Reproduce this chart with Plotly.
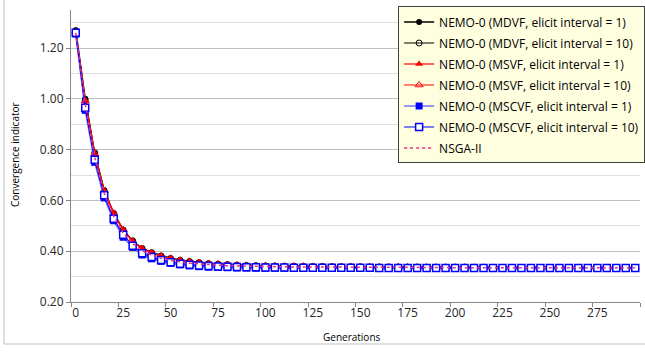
import plotly.graph_objects as go

# Generations (one point every 5 generations)
generations = [0, 5, 10, 15, 20, 25, 30, 35, 40, 45,
               50, 55, 60, 65, 70, 75, 80, 85, 90, 95,
               100, 105, 110, 115, 120, 125, 130, 135, 140, 145,
               150, 155, 160, 165, 170, 175, 180, 185, 190, 195,
               200, 205, 210, 215, 220, 225, 230, 235, 240, 245,
               250, 255, 260, 265, 270, 275, 280, 285, 290, 295]

mdvf_1 = [1.270, 1.000, 0.785, 0.640, 0.550, 0.485, 0.440, 0.412, 0.395, 0.382,
          0.372, 0.365, 0.360, 0.356, 0.352, 0.350, 0.348, 0.346, 0.345, 0.344,
          0.343, 0.342, 0.342, 0.341, 0.341, 0.340, 0.340, 0.340, 0.339, 0.339,
          0.339, 0.339, 0.338, 0.338, 0.338, 0.338, 0.338, 0.338, 0.337, 0.337,
          0.337, 0.337, 0.337, 0.337, 0.337, 0.337, 0.336, 0.336, 0.336, 0.336,
          0.336, 0.336, 0.336, 0.336, 0.336, 0.336, 0.336, 0.336, 0.336, 0.336]

mdvf_10 = [1.268, 0.995, 0.788, 0.638, 0.548, 0.483, 0.441, 0.410, 0.394, 0.381,
           0.371, 0.364, 0.359, 0.355, 0.351, 0.349, 0.347, 0.345, 0.344, 0.343,
           0.342, 0.342, 0.341, 0.341, 0.340, 0.340, 0.340, 0.339, 0.339, 0.339,
           0.338, 0.338, 0.338, 0.338, 0.338, 0.337, 0.337, 0.337, 0.337, 0.337,
           0.337, 0.337, 0.336, 0.336, 0.336, 0.336, 0.336, 0.336, 0.336, 0.336,
           0.336, 0.336, 0.336, 0.335, 0.335, 0.335, 0.335, 0.335, 0.335, 0.335]

msvf_1 = [1.262, 0.990, 0.780, 0.636, 0.548, 0.482, 0.438, 0.410, 0.393, 0.380,
          0.371, 0.364, 0.359, 0.355, 0.351, 0.349, 0.347, 0.345, 0.344, 0.343,
          0.342, 0.342, 0.341, 0.341, 0.340, 0.340, 0.340, 0.339, 0.339, 0.339,
          0.339, 0.338, 0.338, 0.338, 0.338, 0.338, 0.337, 0.337, 0.337, 0.337,
          0.337, 0.337, 0.337, 0.336, 0.336, 0.336, 0.336, 0.336, 0.336, 0.336,
          0.336, 0.336, 0.336, 0.336, 0.336, 0.336, 0.336, 0.336, 0.336, 0.336]

msvf_10 = [1.265, 0.992, 0.783, 0.638, 0.550, 0.484, 0.439, 0.411, 0.394, 0.381,
           0.372, 0.365, 0.360, 0.355, 0.352, 0.349, 0.347, 0.346, 0.344, 0.343,
           0.343, 0.342, 0.341, 0.341, 0.341, 0.340, 0.340, 0.339, 0.339, 0.339,
           0.339, 0.338, 0.338, 0.338, 0.338, 0.338, 0.338, 0.337, 0.337, 0.337,
           0.337, 0.337, 0.337, 0.337, 0.336, 0.336, 0.336, 0.336, 0.336, 0.336,
           0.336, 0.336, 0.336, 0.336, 0.336, 0.336, 0.336, 0.336, 0.336, 0.336]

mscvf_1 = [1.255, 0.955, 0.750, 0.610, 0.520, 0.455, 0.415, 0.385, 0.370, 0.360,
           0.352, 0.346, 0.342, 0.339, 0.337, 0.336, 0.335, 0.334, 0.334, 0.333,
           0.333, 0.333, 0.333, 0.333, 0.333, 0.333, 0.333, 0.332, 0.332, 0.332,
           0.332, 0.332, 0.332, 0.332, 0.332, 0.332, 0.332, 0.332, 0.332, 0.332,
           0.332, 0.332, 0.332, 0.332, 0.332, 0.332, 0.332, 0.332, 0.332, 0.332,
           0.332, 0.332, 0.332, 0.332, 0.332, 0.332, 0.332, 0.332, 0.332, 0.332]

mscvf_10 = [1.260, 0.965, 0.760, 0.620, 0.528, 0.465, 0.422, 0.392, 0.377, 0.365,
            0.357, 0.351, 0.347, 0.344, 0.342, 0.340, 0.339, 0.338, 0.337, 0.337,
            0.336, 0.336, 0.336, 0.335, 0.335, 0.335, 0.335, 0.335, 0.335, 0.335,
            0.335, 0.335, 0.334, 0.334, 0.334, 0.334, 0.334, 0.334, 0.334, 0.334,
            0.334, 0.334, 0.334, 0.334, 0.334, 0.334, 0.334, 0.334, 0.334, 0.334,
            0.334, 0.334, 0.334, 0.334, 0.334, 0.334, 0.334, 0.334, 0.334, 0.334]

nsga2 = [1.260, 0.980, 0.770, 0.628, 0.538, 0.472, 0.430, 0.402, 0.385, 0.372,
         0.364, 0.358, 0.353, 0.350, 0.347, 0.345, 0.343, 0.342, 0.341, 0.340,
         0.340, 0.339, 0.339, 0.338, 0.338, 0.338, 0.338, 0.337, 0.337, 0.337,
         0.337, 0.337, 0.336, 0.336, 0.336, 0.336, 0.336, 0.336, 0.336, 0.336,
         0.335, 0.335, 0.335, 0.335, 0.335, 0.335, 0.335, 0.335, 0.335, 0.335,
         0.335, 0.335, 0.335, 0.335, 0.335, 0.335, 0.335, 0.335, 0.335, 0.335]

series_names = [
    "NEMO-0 (MDVF, elicit interval = 1)",
    "NEMO-0 (MDVF, elicit interval = 10)",
    "NEMO-0 (MSVF, elicit interval = 1)",
    "NEMO-0 (MSVF, elicit interval = 10)",
    "NEMO-0 (MSCVF, elicit interval = 1)",
    "NEMO-0 (MSCVF, elicit interval = 10)",
    "NSGA-II",
]

y_ticks = [0.2, 0.4, 0.6, 0.8, 1.0, 1.2]
x_ticks = [0, 25, 50, 75, 100, 125, 150, 175, 200, 225, 250, 275]

FONT = "Open Sans"
fig = go.Figure()

styles = [
    (mdvf_1, dict(color="black", width=1.5), dict(symbol="circle", size=6, color="black")),
    (mdvf_10, dict(color="black", width=1), dict(symbol="circle-open", size=6, color="black", line=dict(width=1))),
    (msvf_1, dict(color="#FF3030", width=1.5), dict(symbol="triangle-up", size=7, color="#FF0000")),
    (msvf_10, dict(color="#FF0000", width=1), dict(symbol="triangle-up-open", size=7, color="#FF0000", line=dict(width=1))),
    (mscvf_1, dict(color="#7070FF", width=1.5), dict(symbol="square", size=7, color="#0000FF")),
    (mscvf_10, dict(color="#0000FF", width=1.2), dict(symbol="square", size=7, color="white", line=dict(color="#0000FF", width=1.5))),
]
for i, (s, name) in enumerate(zip(styles, series_names[:6])):
    vals, ln, mk = s
    fig.add_trace(go.Scatter(x=generations, y=vals, mode="lines+markers", name=name,
                             line=ln, marker=mk, legendgroup=f"g{i}"))
fig.add_trace(go.Scatter(x=generations, y=nsga2, mode="lines", name=series_names[6],
                         line=dict(color="#E8308A", width=1.5, dash="dot"), legendgroup="g6"))

cat_edges = [g - 2.5 for g in generations[::5]] + [generations[-1] + 2.5]

fig.update_layout(
    width=645, height=352,
    margin=dict(l=71, r=5, t=10, b=50, autoexpand=False),
    paper_bgcolor="white", plot_bgcolor="white",
    font=dict(family=FONT, size=12, color="#262626"),
    xaxis=dict(range=[-2.5, 297.5], tickmode="array", tickvals=x_ticks,
               ticktext=[str(v) for v in x_ticks], ticks="", showgrid=False,
               showline=True, linecolor="#868686", linewidth=1, zeroline=False,
               tickfont=dict(size=12), automargin=False,
               minor=dict(tickmode="array", tickvals=cat_edges, ticks="outside",
                          ticklen=4, tickcolor="#868686", showgrid=False)),
    yaxis=dict(range=[0.2, 1.35], tickmode="array", tickvals=y_ticks, tickformat=".2f",
               ticks="outside", ticklen=4, tickcolor="#868686",
               showgrid=True, gridcolor="#BFBFBF", gridwidth=1,
               showline=True, linecolor="#868686", linewidth=1, zeroline=False,
               tickfont=dict(size=12), automargin=False,
               minor=dict(tick0=0.2, dtick=0.1, showgrid=True, gridcolor="#DEDEDE", gridwidth=1)),
    legend=dict(x=1.009, xanchor="right", y=1.012, yanchor="top",
                bgcolor="#FFFFE0", bordercolor="#404040", borderwidth=1,
                font=dict(family=FONT, size=12, color="black"),
                itemwidth=30, traceorder="grouped", tracegroupgap=2),
    showlegend=True,
    annotations=[
        dict(text="Convergence indicator", xref="paper", yref="paper",
             x=(15 - 71) / 569, y=(302 - 155) / 292, textangle=-90, showarrow=False,
             font=dict(size=10, family=FONT, color="black"), xanchor="center", yanchor="middle"),
        dict(text="Generations", xref="paper", yref="paper",
             x=(352 - 71) / 569, y=(302 - 337) / 292, showarrow=False,
             font=dict(size=10, family=FONT, color="black"), xanchor="center", yanchor="middle"),
    ],
    shapes=[
        dict(type="line", xref="paper", yref="paper", x0=(4 - 71) / 569, x1=(4 - 71) / 569,
             y0=(302 + 5) / 292, y1=(302 - 344) / 292, line=dict(color="#BFBFBF", width=1)),
        dict(type="line", xref="paper", yref="paper", x0=(4 - 71) / 569, x1=(650 - 71) / 569,
             y0=(302 - 344) / 292, y1=(302 - 344) / 292, line=dict(color="#BFBFBF", width=1)),
    ],
)

fig.write_html("out.html", config={"displayModeBar": False},
               post_script="document.body.style.margin='0';document.body.style.overflow='hidden';")
